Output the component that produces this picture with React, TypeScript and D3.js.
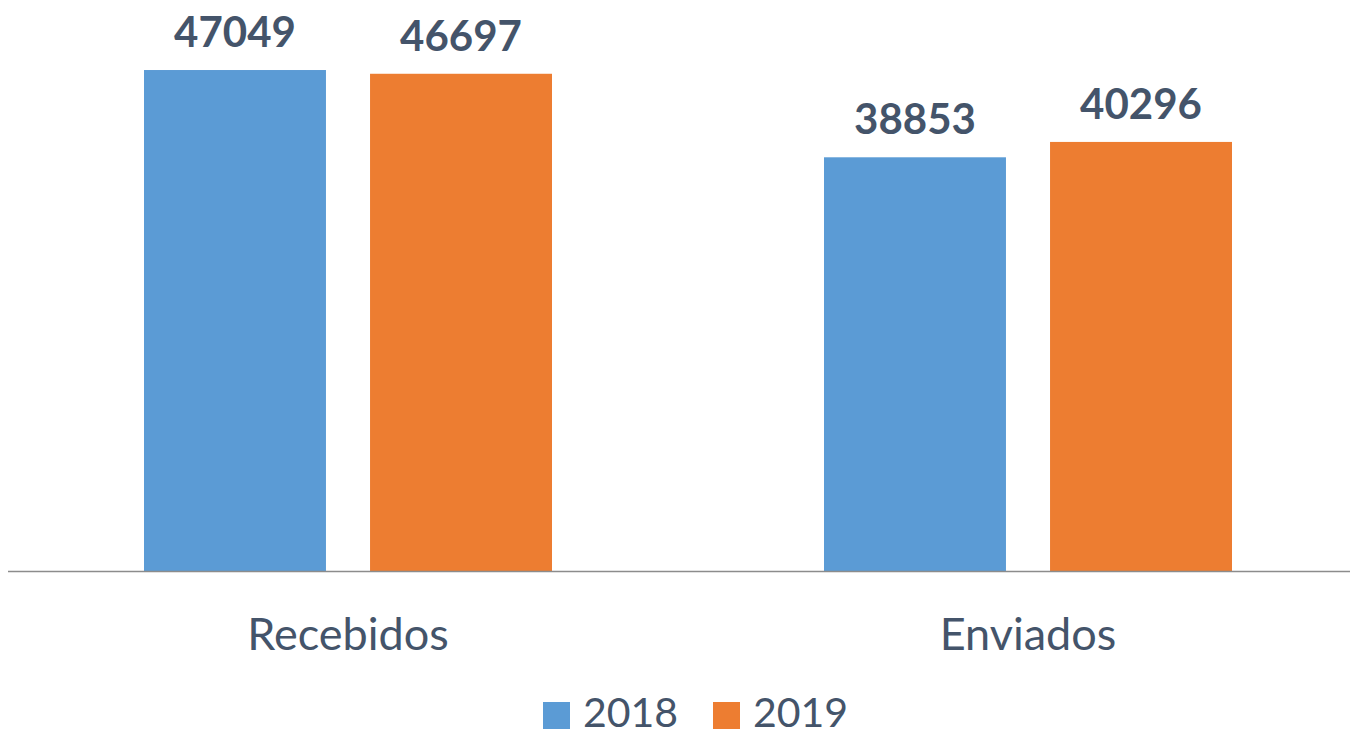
import React from "react";
import * as d3 from "d3";

const categories = ["Recebidos", "Enviados"];
const series = ["2018", "2019"];
const values2018 = [47049, 38853];
const values2019 = [46697, 40296];
const colors = ["#5B9BD5", "#ED7D31"];

export default function App() {
  const width = 1350, height = 732;
  const baseY = 571;
  const font = "Lato, 'Open Sans', sans-serif";
  const textColor = "#44546A";

  const x0 = d3.scaleBand().domain(categories).range([8, 1368]).paddingInner(0.4).paddingOuter(0.2);
  const x1 = d3.scaleBand().domain(series).range([0, x0.bandwidth()]).paddingInner(0.195);
  const y = d3.scaleLinear().domain([0, 50000]).range([baseY, baseY - 532.4]);

  const data = categories.map((c, i) => ({ cat: c, vals: [values2018[i], values2019[i]] }));

  return (
    <svg width={width} height={height} style={{ position: "absolute", left: 0, top: 0, background: "#fff" }}>
      {data.map((d) => (
        <g key={d.cat} transform={`translate(${x0(d.cat)},0)`}>
          {d.vals.map((v, j) => (
            <g key={j}>
              <rect
                x={x1(series[j])}
                y={y(v)}
                width={x1.bandwidth()}
                height={baseY - y(v)}
                fill={colors[j]}
              />
              <text
                x={(x1(series[j]) as number) + x1.bandwidth() / 2}
                y={y(v) - 23}
                textAnchor="middle"
                fontFamily={font}
                fontWeight="bold"
                fontSize={42}
                fill={textColor}
              >
                {v}
              </text>
            </g>
          ))}
          <text
            x={x0.bandwidth() / 2}
            y={650}
            textAnchor="middle"
            fontFamily={font}
            fontSize={45}
            fill={textColor}
          >
            {d.cat}
          </text>
        </g>
      ))}
      <line x1={8} x2={1350} y1={baseY + 0.5} y2={baseY + 0.5} stroke="#8c8c8c" strokeWidth={1.5} />
      <g>
        {series.map((s, i) => (
          <g key={s} transform={`translate(${543 + i * 170},0)`}>
            <rect x={0} y={702} width={27} height={27} fill={colors[i]} />
            <text x={40} y={727} fontFamily={font} fontSize={41} fill={textColor}>
              {s}
            </text>
          </g>
        ))}
      </g>
    </svg>
  );
}
